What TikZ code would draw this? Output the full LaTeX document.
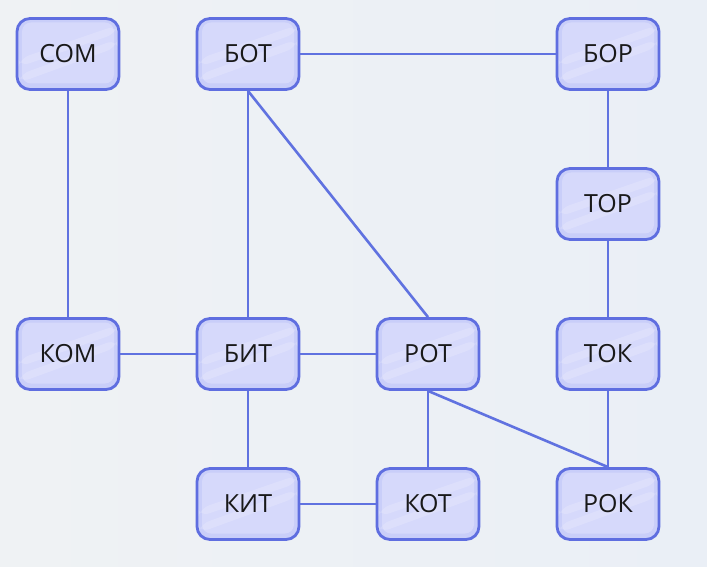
\documentclass[tikz,border=0pt]{standalone}
\usepackage{fontspec}
\setmainfont{Open Sans}
\usepackage{tikz}

\definecolor{bgleft}{HTML}{EFF2F4}
\definecolor{bgright}{HTML}{EAEFF6}
\definecolor{boxline}{HTML}{5F6EE0}
\definecolor{boxfill}{HTML}{C9CEF9}
\definecolor{boxlight}{HTML}{D6D9FB}
\definecolor{edgeblue}{HTML}{6072E0}

\tikzset{
  word/.style={draw=boxline, line width=2.8pt, rounded corners=13pt,
    fill=boxfill, minimum width=102pt, minimum height=71pt,
    font=\fontsize{25}{29}\selectfont, text=black!90,
    path picture={
      \fill[boxlight, rounded corners=9pt]
        ([shift={(5pt,-4pt)}]path picture bounding box.north west) rectangle
        ([shift={(-5pt,6pt)}]path picture bounding box.south east);
      \fill[white, opacity=0.18]
        ([yshift=14pt]path picture bounding box.south west) --
        ([yshift=-20pt]path picture bounding box.north east) --
        ([yshift=-28pt]path picture bounding box.north east) --
        ([yshift=6pt]path picture bounding box.south west) -- cycle;
      \fill[white, opacity=0.18]
        ([yshift=30pt]path picture bounding box.south west) --
        ([yshift=-6pt]path picture bounding box.north east) --
        ([yshift=-14pt]path picture bounding box.north east) --
        ([yshift=22pt]path picture bounding box.south west) -- cycle;
    }},
  link/.style={draw=edgeblue, line width=2.6pt}
}

\begin{document}
\begin{tikzpicture}[x=180pt, y=-150pt]
\shade[left color=bgleft, right color=bgright]
  (-68pt,54pt) rectangle (639pt,-513pt);
\path[use as bounding box] (-68pt,54pt) rectangle (639pt,-513pt);

% top row
\node[word] (som) at (0,0) {СОМ};
\node[word] (bot) at (1,0) {БОТ};
\node[word] (bor) at (3,0) {БОР};
\node[word] (tor) at (3,1) {ТОР};
% middle row
\node[word] (kom) at (0,2) {КОМ};
\node[word] (bit) at (1,2) {БИТ};
\node[word] (rot) at (2,2) {РОТ};
\node[word] (tok) at (3,2) {ТОК};
% bottom row
\node[word] (kit) at (1,3) {КИТ};
\node[word] (kot) at (2,3) {КОТ};
\node[word] (rok) at (3,3) {РОК};

\draw[link] (som) -- (kom);
\draw[link] (bot) -- (bor);
\draw[link] (bot) -- (bit);
\draw[link] (bot.south) -- (rot.north);
\draw[link] (bor) -- (tor);
\draw[link] (tor) -- (tok);
\draw[link] (tok) -- (rok);
\draw[link] (kom) -- (bit);
\draw[link] (bit) -- (rot);
\draw[link] (bit) -- (kit);
\draw[link] (kit) -- (kot);
\draw[link] (rot) -- (kot);
\draw[link] (rot.south) -- (rok.north);
\end{tikzpicture}
\end{document}
